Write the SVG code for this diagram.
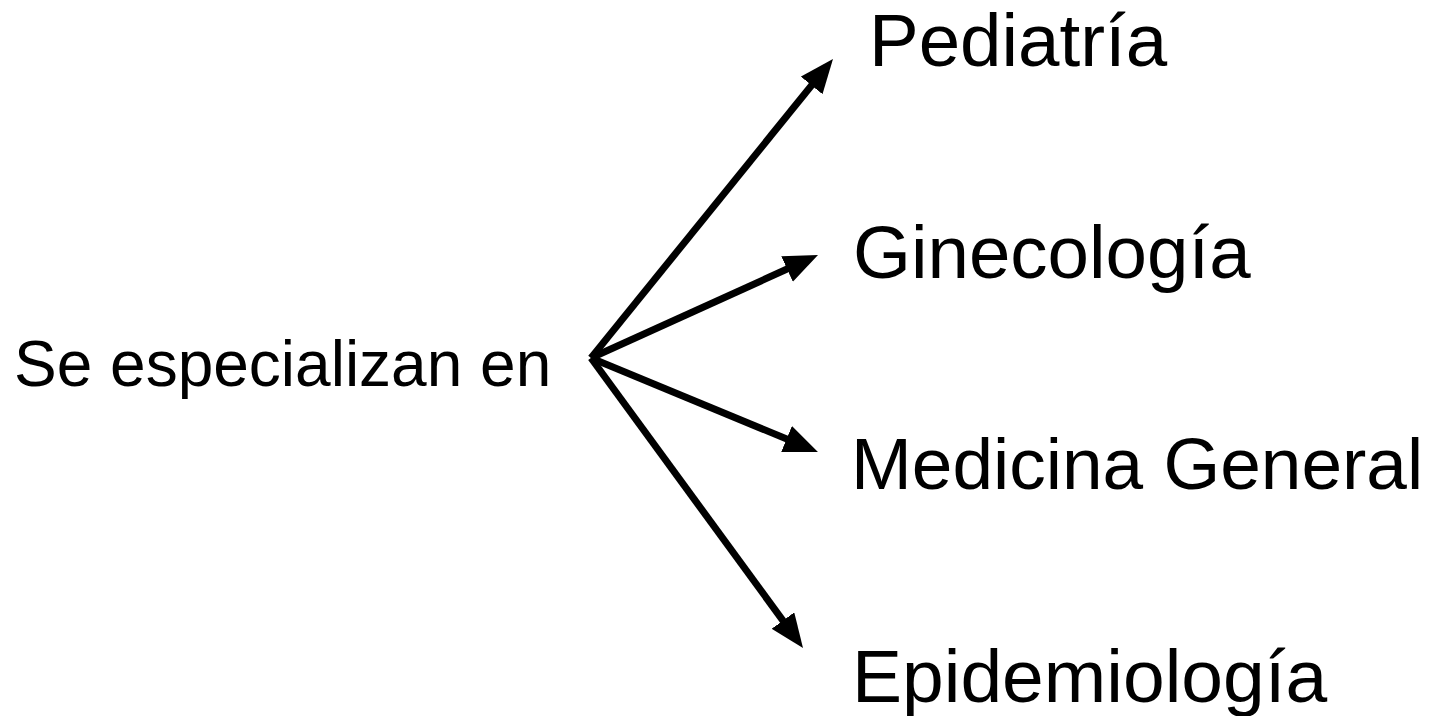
<svg xmlns="http://www.w3.org/2000/svg" width="1444" height="716" viewBox="0 0 1444 716">
<style>
text{font-family:"Liberation Sans",Arial,sans-serif;fill:#000}
.big{font-size:74.5px}
.src{font-size:64px}
.arr{stroke:#000;stroke-width:7;fill:none;marker-end:url(#ah)}
</style>
<defs>
<marker id="ah" markerUnits="userSpaceOnUse" markerWidth="36" markerHeight="30" refX="14" refY="14" orient="auto">
<path d="M0,0 L34,14 L0,28 Z" fill="#000"/>
</marker>
</defs>
<rect width="1444" height="716" fill="#fff"/>
<g id="source"><text class="src" x="14" y="386">Se especializan en</text></g>
<g id="pediatria"><text class="big" x="869" y="66">Pediatría</text></g>
<g id="ginecologia"><text class="big" x="853" y="278">Ginecología</text></g>
<g id="medicina"><text class="big" x="851" y="489" style="font-size:73px">Medicina General</text></g>
<g id="epidemiologia"><text class="big" x="852" y="702" style="font-size:75px">Epidemiología</text></g>
<g id="connectors">
<line class="arr" x1="591" y1="358" x2="820.4" y2="74.5"/>
<line class="arr" x1="591" y1="358" x2="799.8" y2="263.3"/>
<line class="arr" x1="591" y1="358" x2="799.5" y2="444.3"/>
<line class="arr" x1="591" y1="358" x2="791.2" y2="631.9"/>
</g>
</svg>
